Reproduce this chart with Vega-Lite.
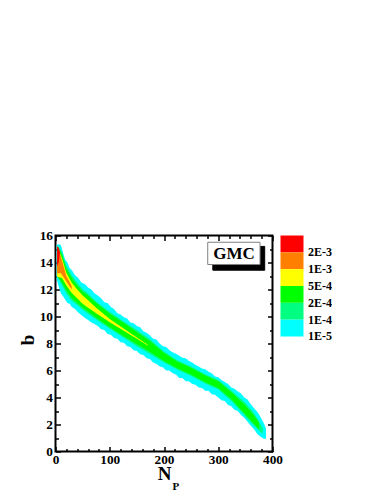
{"$schema":"https://vega.github.io/schema/vega-lite/v6.json","background":"white","autosize":{"type":"pad"},"padding":{"left":16.5,"top":227.5,"right":0,"bottom":0},"config":{"view":{"stroke":null},"font":"Liberation Serif","concat":{"spacing":8}},"bounds":"flush","hconcat":[{"width":217,"height":216,"resolve":{"axis":{"x":"independent","y":"independent"}},"view":{"stroke":"black","strokeWidth":2},"layer":[
{"data":{"name":"outer"},"mark":{"type":"area","clip":true,"interpolate":"linear"},"encoding":{"x":{"field":"np","type":"quantitative","scale":{"domain":[0,400],"nice":false},"axis":{"title":"N","titleFont":"Liberation Serif","titleFontSize":19,"titleFontWeight":"bold","titlePadding":-3,"values":[0,20,40,60,80,100,120,140,160,180,200,220,240,260,280,300,320,340,360,380,400],"labelExpr":"datum.value%100==0?datum.label:''","labelOverlap":false,"labelFont":"Liberation Serif","labelFontSize":13.3,"labelFontWeight":"bold","labelColor":"black","tickColor":"black","tickSize":{"condition":{"test":"datum.value%100==0","value":-5},"value":-3},"tickWidth":1.5,"domain":false,"grid":false,"labelFlush":false,"labelPadding":6}},"y":{"field":"lo","type":"quantitative","scale":{"domain":[0,16],"nice":false},"axis":{"title":"b","titleFont":"Liberation Serif","titleFontSize":19,"titleFontWeight":"bold","titlePadding":2,"titleY":104,"values":[0,1,2,3,4,5,6,7,8,9,10,11,12,13,14,15,16],"labelExpr":"datum.value%2==0?datum.label:''","labelOverlap":false,"labelFont":"Liberation Serif","labelFontSize":13.3,"labelFontWeight":"bold","labelColor":"black","tickColor":"black","tickSize":{"condition":{"test":"datum.value%2==0","value":-5},"value":-3},"tickWidth":1.5,"domain":false,"grid":false,"labelPadding":8}},"y2":{"field":"hi"},"color":{"field":"level","type":"nominal","legend":null,"scale":{"domain":["1E-5","1E-4","2E-4","5E-4","1E-3","2E-3"],"range":["#00ffff","#00ff80","#00ff00","#ffff00","#ff8000","#ff0000"]}}}},
{"data":{"name":"inner"},"mark":{"type":"area","clip":true,"interpolate":"linear"},"encoding":{"x":{"field":"np","type":"quantitative","axis":{"orient":"top","title":null,"labels":false,"domain":false,"grid":false,"values":[0,20,40,60,80,100,120,140,160,180,200,220,240,260,280,300,320,340,360,380,400],"tickColor":"black","tickWidth":1.5,"tickSize":{"condition":{"test":"datum.value%100==0","value":-5},"value":-3}}},"y":{"field":"lo","type":"quantitative","axis":{"orient":"right","title":null,"labels":false,"domain":false,"grid":false,"values":[0,1,2,3,4,5,6,7,8,9,10,11,12,13,14,15,16],"tickColor":"black","tickWidth":1.5,"tickSize":{"condition":{"test":"datum.value%2==0","value":-5},"value":-3}}},"y2":{"field":"hi"},"color":{"field":"level","type":"nominal","legend":null}}},
{"data":{"values":[{"np":290,"np2":385.6,"b":13.43,"b2":15.19,"fill":"black","line":"black"},{"np":280.6,"np2":377,"b":13.85,"b2":15.5,"fill":"white","line":"#808080"}]},"mark":{"type":"rect","strokeWidth":1},"encoding":{"x":{"field":"np","type":"quantitative","axis":null},"x2":{"field":"np2"},"y":{"field":"b","type":"quantitative","axis":null},"y2":{"field":"b2"},"fill":{"field":"fill","type":"nominal","scale":null},"stroke":{"field":"line","type":"nominal","scale":null}}},
{"data":{"values":[{"label":"GMC","np":329,"b":14.65,"size":17},{"label":"P","np":222,"b":-2.6,"size":11}]},"mark":{"type":"text","font":"Liberation Serif","fontWeight":"bold","color":"black","clip":false},"encoding":{"x":{"field":"np","type":"quantitative","axis":null},"y":{"field":"b","type":"quantitative","axis":null},"text":{"field":"label"},"size":{"field":"size","type":"quantitative","scale":null}}}
]},{"width":23,"height":101,"data":{"values":[{"lab":"2E-3","c":"#ff0000"},{"lab":"1E-3","c":"#ff8000"},{"lab":"5E-4","c":"#ffff00"},{"lab":"2E-4","c":"#00ff00"},{"lab":"1E-4","c":"#00ff80"},{"lab":"1E-5","c":"#00ffff"}]},"mark":{"type":"rect"},"encoding":{"y":{"field":"lab","type":"nominal","sort":null,"scale":{"paddingInner":0,"paddingOuter":0},"axis":{"orient":"right","title":null,"domain":false,"ticks":false,"labelOffset":8.4,"labelFont":"Liberation Serif","labelFontSize":12,"labelFontWeight":"bold","labelColor":"black","labelPadding":4}},"color":{"field":"c","type":"nominal","scale":null}}}],"datasets":{"outer":[
{"np":2,"lo":12.8,"hi":15.3,"level":"1E-5"},{"np":6,"lo":12.2,"hi":15.35,"level":"1E-5"},{"np":10,"lo":11.7,"hi":15.3,"level":"1E-5"},{"np":14,"lo":11.5,"hi":14.7,"level":"1E-5"},{"np":18,"lo":11.25,"hi":14.2,"level":"1E-5"},{"np":22,"lo":11.0,"hi":14.0,"level":"1E-5"},{"np":26,"lo":10.95,"hi":13.6,"level":"1E-5"},{"np":30,"lo":10.7,"hi":13.45,"level":"1E-5"},{"np":36,"lo":10.55,"hi":13.05,"level":"1E-5"},{"np":42,"lo":10.3,"hi":12.85,"level":"1E-5"},{"np":48,"lo":10.1,"hi":12.5,"level":"1E-5"},{"np":54,"lo":9.9,"hi":12.4,"level":"1E-5"},{"np":60,"lo":9.75,"hi":12.15,"level":"1E-5"},{"np":66,"lo":9.55,"hi":12.0,"level":"1E-5"},{"np":72,"lo":9.45,"hi":11.7,"level":"1E-5"},{"np":78,"lo":9.3,"hi":11.55,"level":"1E-5"},{"np":84,"lo":9.05,"hi":11.35,"level":"1E-5"},{"np":90,"lo":9.0,"hi":11.05,"level":"1E-5"},{"np":96,"lo":8.7,"hi":11.0,"level":"1E-5"},{"np":102,"lo":8.65,"hi":10.7,"level":"1E-5"},{"np":108,"lo":8.4,"hi":10.55,"level":"1E-5"},{"np":114,"lo":8.35,"hi":10.25,"level":"1E-5"},{"np":120,"lo":8.1,"hi":10.15,"level":"1E-5"},{"np":126,"lo":8.05,"hi":9.95,"level":"1E-5"},{"np":132,"lo":7.8,"hi":9.85,"level":"1E-5"},{"np":138,"lo":7.75,"hi":9.55,"level":"1E-5"},{"np":144,"lo":7.5,"hi":9.5,"level":"1E-5"},{"np":150,"lo":7.45,"hi":9.3,"level":"1E-5"},{"np":156,"lo":7.2,"hi":9.2,"level":"1E-5"},{"np":162,"lo":7.15,"hi":8.9,"level":"1E-5"},{"np":168,"lo":6.9,"hi":8.8,"level":"1E-5"},{"np":174,"lo":6.85,"hi":8.6,"level":"1E-5"},{"np":180,"lo":6.6,"hi":8.35,"level":"1E-5"},{"np":186,"lo":6.5,"hi":8.3,"level":"1E-5"},{"np":192,"lo":6.3,"hi":8.0,"level":"1E-5"},{"np":198,"lo":6.25,"hi":7.8,"level":"1E-5"},{"np":204,"lo":6.0,"hi":7.75,"level":"1E-5"},{"np":210,"lo":6.0,"hi":7.5,"level":"1E-5"},{"np":216,"lo":5.8,"hi":7.35,"level":"1E-5"},{"np":222,"lo":5.7,"hi":7.25,"level":"1E-5"},{"np":228,"lo":5.45,"hi":7.1,"level":"1E-5"},{"np":234,"lo":5.45,"hi":6.95,"level":"1E-5"},{"np":240,"lo":5.2,"hi":6.9,"level":"1E-5"},{"np":246,"lo":5.2,"hi":6.7,"level":"1E-5"},{"np":252,"lo":5.0,"hi":6.6,"level":"1E-5"},{"np":258,"lo":4.95,"hi":6.4,"level":"1E-5"},{"np":264,"lo":4.75,"hi":6.3,"level":"1E-5"},{"np":270,"lo":4.7,"hi":6.15,"level":"1E-5"},{"np":276,"lo":4.5,"hi":6.1,"level":"1E-5"},{"np":282,"lo":4.5,"hi":5.9,"level":"1E-5"},{"np":288,"lo":4.25,"hi":5.8,"level":"1E-5"},{"np":294,"lo":4.2,"hi":5.55,"level":"1E-5"},{"np":300,"lo":4.0,"hi":5.5,"level":"1E-5"},{"np":306,"lo":3.8,"hi":5.3,"level":"1E-5"},{"np":312,"lo":3.75,"hi":5.15,"level":"1E-5"},{"np":318,"lo":3.45,"hi":5.0,"level":"1E-5"},{"np":324,"lo":3.35,"hi":4.75,"level":"1E-5"},{"np":330,"lo":3.1,"hi":4.65,"level":"1E-5"},{"np":336,"lo":3.0,"hi":4.45,"level":"1E-5"},{"np":342,"lo":2.7,"hi":4.3,"level":"1E-5"},{"np":348,"lo":2.5,"hi":4.0,"level":"1E-5"},{"np":354,"lo":2.2,"hi":3.85,"level":"1E-5"},{"np":360,"lo":1.9,"hi":3.5,"level":"1E-5"},{"np":366,"lo":1.65,"hi":3.2,"level":"1E-5"},{"np":372,"lo":1.3,"hi":2.95,"level":"1E-5"},{"np":378,"lo":1.1,"hi":2.55,"level":"1E-5"},{"np":384,"lo":0.95,"hi":2.1,"level":"1E-5"},{"np":388,"lo":0.95,"hi":1.7,"level":"1E-5"}],
"inner":[
{"np":3,"lo":13.0,"hi":15.25,"level":"1E-4"},{"np":12,"lo":12.3,"hi":14.8,"level":"1E-4"},{"np":20,"lo":11.7,"hi":13.75,"level":"1E-4"},{"np":30,"lo":11.15,"hi":13.05,"level":"1E-4"},{"np":40,"lo":10.85,"hi":12.5,"level":"1E-4"},{"np":50,"lo":10.5,"hi":12.0,"level":"1E-4"},{"np":60,"lo":10.2,"hi":11.7,"level":"1E-4"},{"np":75,"lo":9.78,"hi":11.12,"level":"1E-4"},{"np":100,"lo":9.1,"hi":10.35,"level":"1E-4"},{"np":125,"lo":8.45,"hi":9.65,"level":"1E-4"},{"np":150,"lo":7.8,"hi":9.0,"level":"1E-4"},{"np":175,"lo":7.2,"hi":8.3,"level":"1E-4"},{"np":200,"lo":6.6,"hi":7.4,"level":"1E-4"},{"np":225,"lo":6.05,"hi":6.75,"level":"1E-4"},{"np":250,"lo":5.6,"hi":6.3,"level":"1E-4"},{"np":275,"lo":5.05,"hi":5.75,"level":"1E-4"},{"np":300,"lo":4.6,"hi":5.3,"level":"1E-4"},{"np":325,"lo":3.7,"hi":4.5,"level":"1E-4"},{"np":350,"lo":2.6,"hi":3.6,"level":"1E-4"},{"np":365,"lo":1.95,"hi":2.9,"level":"1E-4"},{"np":375,"lo":1.55,"hi":2.25,"level":"1E-4"},{"np":382,"lo":1.3,"hi":1.75,"level":"1E-4"},
{"np":3,"lo":13.0,"hi":15.2,"level":"2E-4"},{"np":12,"lo":12.5,"hi":14.6,"level":"2E-4"},{"np":20,"lo":11.95,"hi":13.55,"level":"2E-4"},{"np":30,"lo":11.35,"hi":12.85,"level":"2E-4"},{"np":40,"lo":11.0,"hi":12.3,"level":"2E-4"},{"np":50,"lo":10.65,"hi":11.85,"level":"2E-4"},{"np":60,"lo":10.35,"hi":11.55,"level":"2E-4"},{"np":75,"lo":9.9,"hi":11.0,"level":"2E-4"},{"np":100,"lo":9.2,"hi":10.2,"level":"2E-4"},{"np":125,"lo":8.55,"hi":9.55,"level":"2E-4"},{"np":150,"lo":7.95,"hi":8.85,"level":"2E-4"},{"np":175,"lo":7.35,"hi":8.15,"level":"2E-4"},{"np":200,"lo":6.7,"hi":7.3,"level":"2E-4"},{"np":225,"lo":6.15,"hi":6.65,"level":"2E-4"},{"np":250,"lo":5.7,"hi":6.2,"level":"2E-4"},{"np":275,"lo":5.15,"hi":5.65,"level":"2E-4"},{"np":300,"lo":4.7,"hi":5.2,"level":"2E-4"},{"np":325,"lo":3.85,"hi":4.35,"level":"2E-4"},{"np":350,"lo":2.75,"hi":3.4,"level":"2E-4"},{"np":365,"lo":2.1,"hi":2.7,"level":"2E-4"},{"np":375,"lo":1.65,"hi":2.15,"level":"2E-4"},
{"np":3,"lo":12.95,"hi":15.2,"level":"5E-4"},{"np":12,"lo":12.85,"hi":14.3,"level":"5E-4"},{"np":20,"lo":12.3,"hi":13.25,"level":"5E-4"},{"np":30,"lo":11.75,"hi":12.5,"level":"5E-4"},{"np":40,"lo":11.35,"hi":12.0,"level":"5E-4"},{"np":50,"lo":10.95,"hi":11.55,"level":"5E-4"},{"np":60,"lo":10.65,"hi":11.2,"level":"5E-4"},{"np":75,"lo":10.25,"hi":10.65,"level":"5E-4"},{"np":100,"lo":9.58,"hi":9.82,"level":"5E-4"},{"np":125,"lo":8.97,"hi":9.13,"level":"5E-4"},{"np":150,"lo":8.35,"hi":8.45,"level":"5E-4"},{"np":170,"lo":7.85,"hi":7.9,"level":"5E-4"},
{"np":3,"lo":13.2,"hi":15.2,"level":"1E-3"},{"np":10,"lo":13.2,"hi":14.4,"level":"1E-3"},{"np":20,"lo":12.6,"hi":13.0,"level":"1E-3"},{"np":30,"lo":12.0,"hi":12.25,"level":"1E-3"},
{"np":3,"lo":13.7,"hi":15.2,"level":"2E-3"},{"np":6,"lo":14.0,"hi":15.1,"level":"2E-3"},{"np":8,"lo":14.6,"hi":14.8,"level":"2E-3"}
]}}
